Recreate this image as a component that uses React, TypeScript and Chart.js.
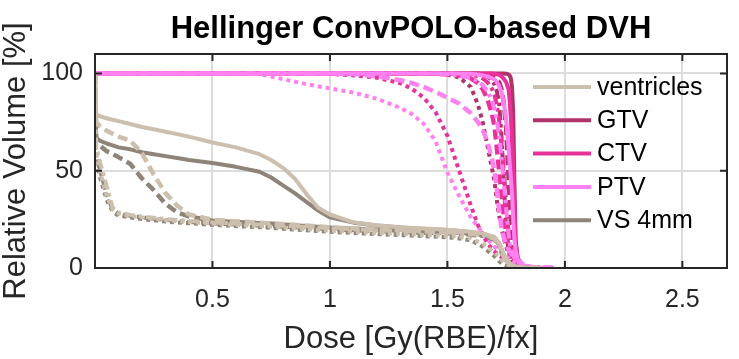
import React, { useEffect, useRef } from 'react';
import { Chart, registerables } from 'chart.js';

Chart.register(...registerables);

const TITLE = 'Hellinger ConvPOLO-based DVH';
const X_LABEL = 'Dose [Gy(RBE)/fx]';
const Y_LABEL = 'Relative Volume [%]';
const X_TICKS = [0.5, 1, 1.5, 2, 2.5];
const Y_TICKS = [0, 50, 100];
const STRUCTURES = ['ventricles', 'GTV', 'CTV', 'PTV', 'VS 4mm'];
const COLORS = ['#cdbfae', '#b1336b', '#e8329a', '#ff80f0', '#8e8477'];

// Dose grid for organs at risk
const OAR_DOSE = [0, 0.005, 0.02, 0.05, 0.075, 0.1, 0.15, 0.2, 0.25, 0.3, 0.35, 0.4, 0.5, 0.6, 0.7, 0.75, 0.8, 0.85, 0.9, 0.95, 1.0, 1.1, 1.2, 1.3, 1.4, 1.5, 1.55, 1.6, 1.65, 1.7, 1.72, 1.74, 1.76, 1.78, 1.8, 1.85, 1.9];

const VEN_SOLID = [100, 79, 78, 77, 76.2, 75.5, 74, 72.5, 71.3, 70, 68.8, 67.5, 64.5, 62, 58.5, 55.5, 51.5, 46, 38, 31, 27.5, 23.5, 22, 21, 20.3, 19.7, 19.2, 18.6, 17.8, 16, 13, 7, 3, 1.2, 0.4, 0, 0];
const VEN_DASHED = [100, 75, 73, 70.5, 69, 67.5, 65.5, 59, 48, 38.5, 32, 27.5, 24.8, 24, 23.3, 23, 22.6, 22.2, 21.8, 21.4, 21, 20.4, 19.9, 19.5, 19.1, 18.7, 18.4, 18, 17.4, 15.8, 12.5, 6.5, 2.8, 1.1, 0.4, 0, 0];
const VEN_DASHDOT = [100, 62, 55, 42, 31, 28.5, 27.3, 26.5, 25.8, 25.2, 24.7, 24.2, 23.4, 22.8, 22.3, 22, 21.7, 21.4, 21.1, 20.8, 20.5, 19.9, 19.4, 19, 18.6, 18.2, 17.9, 17.5, 16.9, 15, 11.5, 5.5, 2.2, 0.9, 0.3, 0, 0];
const VEN_DOTTED = [100, 59, 50, 37, 30, 28, 26.8, 26, 25.3, 24.6, 24.1, 23.6, 22.8, 22.1, 21.6, 21.2, 20.8, 20.4, 20, 19.6, 19.2, 18.6, 18, 17.5, 17, 16.5, 16, 15.2, 12.5, 8, 5.5, 3, 1.5, 0.8, 0.4, 0.1, 0];

const VS_SOLID = [100, 67, 65.5, 64, 63, 62, 61, 59.5, 58.5, 57.5, 56.5, 55.5, 54, 52, 49.5, 46.5, 42.5, 38.5, 34, 29.5, 26, 23.3, 21.8, 20.8, 20, 19.5, 19, 18.4, 17.6, 15.5, 12, 6, 2.5, 1, 0.3, 0, 0];
const VS_DASHED = [100, 65, 63, 60, 58.5, 57, 53.5, 46, 40, 33, 28.5, 26.5, 24.3, 23.6, 23, 22.7, 22.3, 21.9, 21.5, 21.1, 20.7, 20.1, 19.6, 19.2, 18.8, 18.4, 18.1, 17.7, 17, 15.3, 12, 6, 2.5, 1, 0.3, 0, 0];
const VS_DASHDOT = [100, 57, 51, 38, 30, 28, 26.8, 26, 25.3, 24.7, 24.2, 23.7, 22.9, 22.3, 21.8, 21.5, 21.2, 20.9, 20.6, 20.3, 20, 19.4, 18.9, 18.5, 18.1, 17.7, 17.4, 17, 16.4, 14.5, 11, 5, 2, 0.8, 0.2, 0, 0];
const VS_DOTTED = [100, 55, 47, 35, 29, 27, 26, 25.2, 24.5, 23.9, 23.4, 23, 22.2, 21.5, 21, 20.6, 20.2, 19.8, 19.4, 19, 18.6, 18, 17.4, 16.9, 16.4, 15.8, 15.2, 14.2, 11, 6, 3.5, 1.5, 0.6, 0.2, 0, 0, 0];

// Dose grid for targets
const TARGET_DOSE = [0, 0.5, 0.7, 0.9, 1.0, 1.1, 1.2, 1.3, 1.35, 1.4, 1.45, 1.5, 1.55, 1.6, 1.63, 1.65, 1.67, 1.69, 1.7, 1.71, 1.72, 1.73, 1.74, 1.75, 1.76, 1.765, 1.77, 1.775, 1.78, 1.785, 1.79, 1.8, 1.82, 1.85, 1.9, 1.95];

const GTV_SOLID = [100, 100, 100, 100, 100, 100, 100, 100, 100, 100, 100, 100, 100, 100, 100, 100, 100, 100, 100, 100, 100, 100, 100, 99.9, 99.5, 99, 97.5, 93, 80, 45, 15, 3, 0.5, 0, 0, 0];
const GTV_DASHED = [100, 100, 100, 100, 100, 100, 100, 100, 100, 100, 100, 100, 100, 100, 99.8, 99.5, 99, 98.3, 97.8, 96.8, 95.5, 92, 85, 72, 47, 36, 24, 13, 8, 5.5, 4, 2.5, 0.8, 0.2, 0, 0];
const GTV_DASHDOT = [100, 100, 100, 100, 100, 100, 100, 100, 100, 100, 100, 100, 100, 99.8, 99.6, 99.3, 98.5, 96.5, 94.5, 91, 85, 68, 45, 20, 9, 6.5, 5, 4, 3.3, 2.8, 2.3, 1.6, 0.6, 0.1, 0, 0];
const GTV_DOTTED = [100, 100, 100, 100, 100, 100, 100, 100, 100, 100, 100, 99.3, 98, 93, 84, 75, 63, 51, 45, 35, 27, 21, 15, 11, 7.5, 6, 5, 4.2, 3.5, 3, 2.5, 1.8, 0.9, 0.3, 0, 0];

const CTV_SOLID = [100, 100, 100, 100, 100, 100, 100, 100, 100, 100, 100, 100, 100, 100, 100, 100, 100, 100, 99.8, 99.6, 99.3, 98.5, 97.2, 95.5, 92, 86, 77, 65, 52, 32, 13, 5, 1.2, 0.2, 0, 0];
const CTV_DASHED = [100, 100, 100, 100, 100, 100, 100, 100, 100, 100, 99.8, 99.5, 99, 97.5, 95, 92, 87, 79, 73, 62, 50, 38, 27, 18, 11, 8.5, 6.5, 5, 4, 3.2, 2.5, 1.6, 0.6, 0.1, 0, 0];
const CTV_DASHDOT = [100, 100, 100, 100, 100, 100, 100, 100, 100, 100, 100, 100, 99.8, 99.3, 98.5, 97.5, 95.5, 92, 89, 84, 76, 64, 50, 34, 19, 13, 9, 6.5, 5, 4, 3.2, 2.2, 0.9, 0.2, 0, 0];
const CTV_DOTTED = [100, 100, 100, 99.9, 99.7, 99, 97.8, 95, 92, 87.5, 80, 68, 50, 32, 22, 17, 13, 9.5, 8.5, 7.5, 6.5, 5.6, 4.8, 4, 3.2, 2.9, 2.6, 2.3, 2, 1.8, 1.6, 1.3, 0.8, 0.3, 0, 0];

const PTV_SOLID = [100, 100, 100, 100, 100, 100, 100, 100, 100, 100, 100, 100, 100, 99.8, 99.5, 99, 98.5, 97.5, 97, 95.5, 93.5, 90.5, 85, 76, 62, 54, 46, 38, 25, 15, 9, 4, 1.2, 0.3, 0, 0];
const PTV_DASHED = [100, 100, 100, 100, 100, 99.7, 98.6, 96.5, 95, 93, 90.5, 87.5, 84.5, 79.5, 75, 71, 65, 56, 50, 41, 30, 21, 15.5, 12, 9.5, 8.5, 7.5, 6.8, 6, 5.4, 4.8, 3.8, 2, 0.6, 0.1, 0];
const PTV_DASHDOT = [100, 100, 100, 100, 100, 100, 100, 100, 100, 100, 100, 99.5, 99, 97.5, 96, 94, 91, 86, 82, 76, 68, 57, 44, 30, 18, 13, 10, 8, 6.5, 5.2, 4.2, 3, 1.5, 0.5, 0.1, 0];
const PTV_DOTTED = [100, 100, 99.7, 94.5, 92.3, 90.2, 87, 82.3, 79, 74, 65, 49, 37, 26, 21, 18, 15, 12, 11, 10, 9, 8, 7, 6, 5, 4.6, 4.2, 3.9, 3.5, 3.2, 2.9, 2.4, 1.6, 0.8, 0.3, 0];

const STYLE_DASH: Record<string, number[]> = {
  solid: [],
  dashed: [10, 5],
  dashdot: [10, 4, 3.5, 4],
  dotted: [4, 4],
};
const STYLE_WIDTH: Record<string, number> = { solid: 4, dashed: 4.5, dashdot: 4, dotted: 4 };

const FONT = '"Liberation Sans", Arial, Helvetica, sans-serif';
const TEXT_COLOR = '#262626';

function pts(dose: number[], vol: number[]) {
  return dose.map((d, i) => ({ x: d, y: vol[i] }));
}

function ds(label: string, color: string, style: string, dose: number[], vol: number[]) {
  return {
    label,
    data: pts(dose, vol),
    borderColor: color,
    backgroundColor: color,
    borderWidth: STYLE_WIDTH[style],
    borderDash: STYLE_DASH[style],
    borderCapStyle: 'butt' as const,
    borderJoinStyle: 'round' as const,
    showLine: true,
    pointRadius: 0,
    pointHoverRadius: 0,
    tension: 0,
    fill: false,
  };
}

const overlayPlugin = {
  id: 'matlabOverlay',
  afterDatasetsDraw(chart: any) {
    const { ctx, chartArea, scales } = chart;
    const { left, right, top, bottom } = chartArea;
    ctx.save();
    // box and inward ticks
    ctx.strokeStyle = TEXT_COLOR;
    ctx.lineWidth = 2;
    ctx.strokeRect(left, top, right - left, bottom - top);
    const tl = 7;
    ctx.beginPath();
    X_TICKS.forEach((v) => {
      const px = scales.x.getPixelForValue(v);
      ctx.moveTo(px, bottom);
      ctx.lineTo(px, bottom - tl);
      ctx.moveTo(px, top);
      ctx.lineTo(px, top + tl);
    });
    Y_TICKS.forEach((v) => {
      const py = scales.y.getPixelForValue(v);
      ctx.moveTo(left, py);
      ctx.lineTo(left + tl, py);
      ctx.moveTo(right, py);
      ctx.lineTo(right - tl, py);
    });
    ctx.stroke();

    // legend
    const legX0 = 533;
    const legX1 = 591;
    const legY0 = 87;
    const legStep = 33.3;
    ctx.font = `25px ${FONT}`;
    ctx.textBaseline = 'middle';
    ctx.textAlign = 'left';
    STRUCTURES.forEach((name, i) => {
      const y = legY0 + i * legStep;
      ctx.strokeStyle = COLORS[i];
      ctx.lineWidth = 4;
      ctx.setLineDash([]);
      ctx.beginPath();
      ctx.moveTo(legX0, y);
      ctx.lineTo(legX1, y);
      ctx.stroke();
      ctx.fillStyle = '#000';
      ctx.fillText(name, 597, y + 1);
    });

    // title
    ctx.fillStyle = '#000';
    ctx.textAlign = 'center';
    ctx.textBaseline = 'alphabetic';
    ctx.font = `bold 31px ${FONT}`;
    ctx.fillText(TITLE, (left + right) / 2, 38);

    // axis titles
    ctx.fillStyle = TEXT_COLOR;
    ctx.font = `31px ${FONT}`;
    ctx.fillText(X_LABEL, (left + right) / 2, 348);
    ctx.save();
    ctx.translate(25, (top + bottom) / 2);
    ctx.rotate(-Math.PI / 2);
    ctx.fillText(Y_LABEL, 0, 0);
    ctx.restore();
    ctx.restore();
  },
};

export default function App() {
  const canvasRef = useRef<HTMLCanvasElement | null>(null);

  useEffect(() => {
    const canvas = canvasRef.current;
    if (!canvas) return;
    const datasets = [
      ds('ventricles', COLORS[0], 'solid', OAR_DOSE, VEN_SOLID),
      ds('ventricles dashed', COLORS[0], 'dashed', OAR_DOSE, VEN_DASHED),
      ds('ventricles dash-dot', COLORS[0], 'dashdot', OAR_DOSE, VEN_DASHDOT),
      ds('ventricles dotted', COLORS[0], 'dotted', OAR_DOSE, VEN_DOTTED),
      ds('VS 4mm', COLORS[4], 'solid', OAR_DOSE, VS_SOLID),
      ds('VS 4mm dashed', COLORS[4], 'dashed', OAR_DOSE, VS_DASHED),
      ds('VS 4mm dash-dot', COLORS[4], 'dashdot', OAR_DOSE, VS_DASHDOT),
      ds('VS 4mm dotted', COLORS[4], 'dotted', OAR_DOSE, VS_DOTTED),
      ds('PTV dotted', COLORS[3], 'dotted', TARGET_DOSE, PTV_DOTTED),
      ds('PTV dashed', COLORS[3], 'dashed', TARGET_DOSE, PTV_DASHED),
      ds('PTV dash-dot', COLORS[3], 'dashdot', TARGET_DOSE, PTV_DASHDOT),
      ds('PTV', COLORS[3], 'solid', TARGET_DOSE, PTV_SOLID),
      ds('CTV dotted', COLORS[2], 'dotted', TARGET_DOSE, CTV_DOTTED),
      ds('CTV dashed', COLORS[2], 'dashed', TARGET_DOSE, CTV_DASHED),
      ds('CTV dash-dot', COLORS[2], 'dashdot', TARGET_DOSE, CTV_DASHDOT),
      ds('CTV', COLORS[2], 'solid', TARGET_DOSE, CTV_SOLID),
      ds('GTV dotted', COLORS[1], 'dotted', TARGET_DOSE, GTV_DOTTED),
      ds('GTV dashed', COLORS[1], 'dashed', TARGET_DOSE, GTV_DASHED),
      ds('GTV dash-dot', COLORS[1], 'dashdot', TARGET_DOSE, GTV_DASHDOT),
      ds('GTV', COLORS[1], 'solid', TARGET_DOSE, GTV_SOLID),
    ];

    const chart = new Chart(canvas, {
      type: 'scatter',
      data: { datasets },
      plugins: [overlayPlugin],
      options: {
        animation: false,
        responsive: false,
        devicePixelRatio: 1,
        events: [],
        layout: { padding: { left: 0, right: 12, top: 54, bottom: 0 } },
        plugins: {
          legend: { display: false },
          title: { display: false },
          tooltip: { enabled: false },
        },
        scales: {
          x: {
            type: 'linear',
            min: 0,
            max: 2.69,
            afterFit: (scale: any) => {
              scale.height = 91;
            },
            afterBuildTicks: (scale: any) => {
              scale.ticks = [0, ...X_TICKS].map((v) => ({ value: v }));
            },
            border: { display: false },
            grid: { color: '#dcdcdc', lineWidth: 2, drawTicks: false },
            ticks: {
              padding: 17,
              color: TEXT_COLOR,
              font: { family: FONT, size: 25 },
              maxRotation: 0,
              autoSkip: false,
              callback: (v: any) => (v === 0 ? '' : String(v)),
            },
          },
          y: {
            type: 'linear',
            min: 0,
            max: 110,
            afterFit: (scale: any) => {
              scale.width = 95;
            },
            afterBuildTicks: (scale: any) => {
              scale.ticks = Y_TICKS.map((v) => ({ value: v }));
            },
            border: { display: false },
            grid: { color: '#dcdcdc', lineWidth: 2, drawTicks: false },
            ticks: {
              padding: 12,
              color: TEXT_COLOR,
              font: { family: FONT, size: 25 },
              autoSkip: false,
              callback: (v: any) => String(v),
            },
          },
        },
      },
    });
    return () => chart.destroy();
  }, []);

  return (
    <div style={{ position: 'absolute', left: 0, top: 0, width: 739, height: 359, background: '#fff' }}>
      <canvas ref={canvasRef} width={739} height={359} style={{ display: 'block' }} />
    </div>
  );
}
